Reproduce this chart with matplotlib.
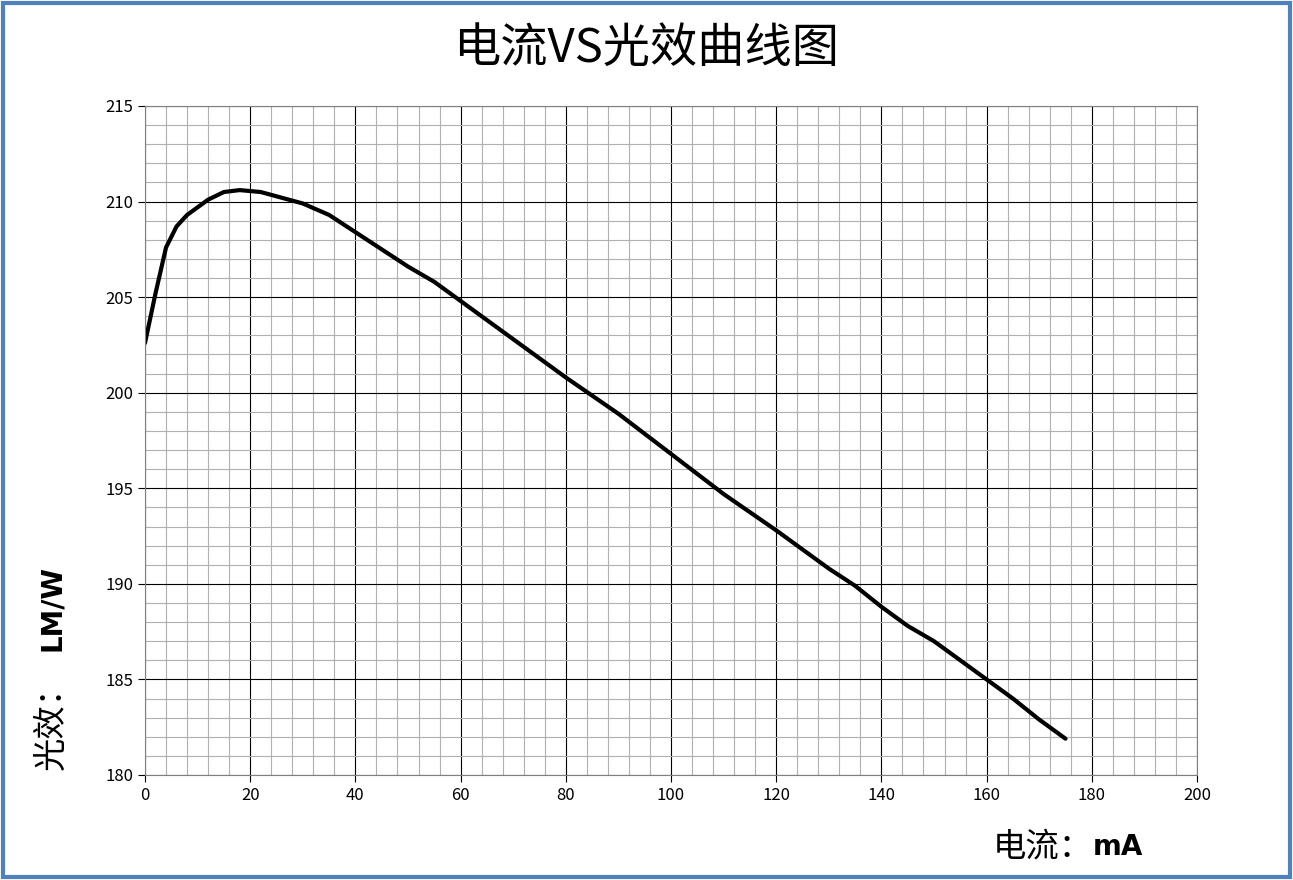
import matplotlib
matplotlib.use("Agg")
import matplotlib.pyplot as plt
import numpy as np
from matplotlib.patches import Rectangle

plt.rcParams['font.family'] = ['Noto Sans CJK SC', 'DejaVu Sans']

current = [0, 2, 4, 6, 8, 10, 12, 15, 18, 22, 26, 30, 35, 40, 45, 50, 55, 60, 70, 80,
           90, 100, 110, 120, 130, 135, 140, 145, 150, 155, 160, 165, 170, 175]
efficacy = [202.6, 205.2, 207.6, 208.7, 209.3, 209.7, 210.1, 210.5, 210.6, 210.5, 210.2,
            209.9, 209.3, 208.4, 207.5, 206.6, 205.8, 204.8, 202.8, 200.8, 198.9, 196.8,
            194.7, 192.8, 190.8, 189.9, 188.8, 187.8, 187.0, 186.0, 185.0, 184.0, 182.9, 181.9]
xticks = list(range(0, 201, 20))
yticks = list(range(180, 216, 5))

fig = plt.figure(figsize=(12.93, 8.80), dpi=100)
ax = fig.add_axes([145/1293, 1-775/880, (1197-145)/1293, (775-106)/880])
ax.plot(current, efficacy, color='black', lw=3, solid_capstyle='round', solid_joinstyle='round')
ax.set_xlim(0, 200)
ax.set_ylim(180, 215)
ax.set_xticks(xticks)
ax.set_yticks(yticks)
ax.set_xticks(np.arange(0, 201, 4), minor=True)
ax.set_yticks(np.arange(180, 216, 1), minor=True)
ax.grid(which='minor', color='#b0b0b0', lw=0.8)
ax.grid(which='major', color='black', lw=0.8)
ax.set_axisbelow(True)
ax.tick_params(which='minor', length=0)
ax.tick_params(which='major', labelsize=12, length=5)
for s in ax.spines.values():
    s.set_color('#808080')

fig.text(0.5, 0.945, '电流VS光效曲线图', ha='center', va='center', fontsize=34)
fig.text(0.04, 0.125, '光效：', rotation=90, ha='center', va='bottom', fontsize=24)
fig.text(0.04, 0.26, 'LM/W', rotation=90, ha='center', va='bottom', fontsize=20, fontweight='bold', family='DejaVu Sans')
fig.text(0.845, 0.038, '电流：', ha='right', va='center', fontsize=24)
fig.text(0.845, 0.038, 'mA', ha='left', va='center', fontsize=20, fontweight='bold', family='DejaVu Sans')
fig.patches.append(Rectangle((0.002, 0.003), 0.996, 0.994, transform=fig.transFigure,
                             fill=False, edgecolor='#4f81bd', lw=3))
fig.savefig('out.png', dpi=100)
